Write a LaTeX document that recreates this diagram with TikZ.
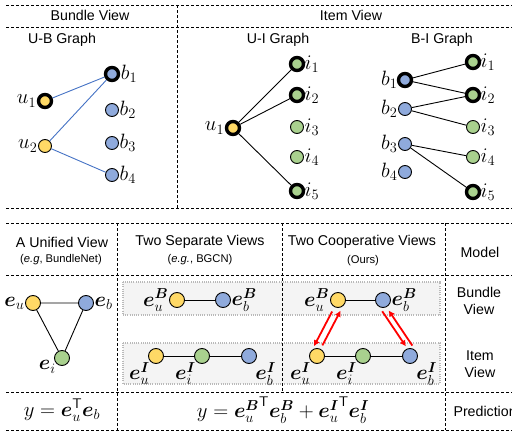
\documentclass[tikz,border=0pt]{standalone}
\usepackage{amsmath,bm}
\usepackage{fontspec}
\setmainfont{Liberation Sans}
\usetikzlibrary{arrows.meta}

\definecolor{uyel}{HTML}{FFD966}
\definecolor{bblu}{HTML}{8FAADC}
\definecolor{igrn}{HTML}{A9D18E}
\definecolor{eblu}{HTML}{4472C4}

\tikzset{
	dot/.style={circle, draw=black, line width=0.9pt, minimum size=13pt, inner sep=0pt},
	user/.style={dot, fill=uyel},
	bund/.style={dot, fill=bblu},
	item/.style={dot, fill=igrn},
	hot/.style={line width=3.4pt},
	big/.style={minimum size=15pt, every label/.append style={font=\fontsize{21}{24}\selectfont}},
	grid/.style={line width=0.9pt, dash pattern=on 3pt off 2pt},
	viewbox/.style={draw=gray!55, fill=gray!9, line width=1.1pt, dash pattern=on 1pt off 1.2pt},
	uedge/.style={eblu, line width=0.9pt},
	kedge/.style={black, line width=0.9pt},
	coop/.style={red, line width=1.8pt, -{Latex[length=6pt,width=6.5pt]}},
	hdr/.style={font=\fontsize{14.2}{16}\selectfont},
	sub/.style={font=\fontsize{11.2}{13}\selectfont},
	every label/.style={font=\fontsize{20}{23}\selectfont, inner sep=0.5pt},
}

\newcommand{\bv}[1]{\bm{e}_{#1}}

\begin{document}
\begin{tikzpicture}[x=1pt, y=-1pt]
			%%%%% START %%%%%
			\useasboundingbox (0,0) rectangle (512,434);
			
			% gray view boxes
			\draw[viewbox] (123,282) rectangle (440,315);
			\draw[viewbox] (123,343) rectangle (440,384);
			
			% top table
			\draw[grid] (6,5) -- (512,5);
			\draw[grid] (6,27) -- (512,27);
			\draw[grid] (6,208) -- (512,208);
			\draw[grid] (177,5) -- (177,208);
			
			% bottom table
			\draw[grid] (6,223) -- (512,223);
			\draw[grid] (6,275) -- (512,275);
			\draw[grid] (6,392) -- (512,392);
			\draw[grid] (6,430) -- (512,430);
			\draw[grid] (117,223) -- (117,430);
			\draw[grid] (282,223) -- (282,392);
			\draw[grid] (445,223) -- (445,430);
			
			% headers
			\node[hdr] (h-bv) at (90,15) {Bundle View};
			\node[hdr] (h-iv) at (351,15) {Item View};
			\node[hdr] (h-ub) at (62,40) {U-B Graph};
			\node[hdr] (h-ui) at (278,40) {U-I Graph};
			\node[hdr] (h-bi) at (442,40) {B-I Graph};
			
			% U-B graph
			\node[user,hot,label=left:$u_1$] (ub-u1) at (45,101) {};
			\node[user,label=left:$u_2$] (ub-u2) at (45,146) {};
			\node[bund,hot,label=right:$b_1$] (ub-b1) at (112,74) {};
			\node[bund,label=right:$b_2$] (ub-b2) at (112,110) {};
			\node[bund,label=right:$b_3$] (ub-b3) at (112,143) {};
			\node[bund,label=right:$b_4$] (ub-b4) at (112,175) {};
			\draw[uedge] (ub-u1) -- (ub-b1);
			\draw[uedge] (ub-u2) -- (ub-b1);
			\draw[uedge] (ub-u2) -- (ub-b4);
			
			% U-I graph
			\node[user,hot,label=left:$u_1$] (ui-u1) at (233,128) {};
			\foreach \n/\y in {1/64,2/95,3/127,4/157,5/191}
				\node[item,label=right:$i_\n$] (ui-i\n) at (297,\y) {};
			\foreach \n in {1,2,5} {
				\node[item,hot] at (ui-i\n) {};
				\draw[kedge] (ui-u1) -- (ui-i\n);
			}
			
			% B-I graph
			\foreach \n/\y in {1/80,2/109,3/144,4/172}
				\node[bund,label=left:$b_\n$] (bi-b\n) at (405,\y) {};
			\foreach \n/\y in {1/62,2/95,3/127,4/157,5/192}
				\node[item,label=right:$i_\n$] (bi-i\n) at (473,\y) {};
			\node[bund,hot] at (bi-b1) {};
			\foreach \n in {1,2,5}
				\node[item,hot] at (bi-i\n) {};
			\foreach \a/\b in {1/1,1/2,2/2,2/3,3/4,3/5}
				\draw[kedge] (bi-b\a) -- (bi-i\b);
			
			% bottom table headers
			\node[hdr] (h-uni) at (62,242) {A Unified View};
			\node[sub] (s-uni) at (61,260) {(\textit{e.g}, BundleNet)};
			\node[hdr] (h-sep) at (200,242) {Two Separate Views};
			\node[sub] (s-sep) at (200,260) {(\textit{e.g.}, BGCN)};
			\node[hdr] (h-coo) at (362,242) {Two Cooperative Views};
			\node[sub] (s-coo) at (363,261) {(Ours)};
			\node[hdr] (h-mod) at (480,252) {Model};
			\node[hdr, align=center] (h-bun) at (479,301) {Bundle\\[1pt]View};
			\node[hdr, align=center] (h-itm) at (480,364) {Item\\[1pt]View};
			\node[hdr, anchor=west] (h-pre) at (450,411) {Prediction};
			
			% unified view
			\node[user,big,label=left:$\bv{u}$] (un-u) at (33,303) {};
			\node[bund,big,label=right:$\bv{b}$] (un-b) at (86,303) {};
			\node[item,big,label={[label distance=-2pt]-160:$\bv{i}$}] (un-i) at (62,358) {};
			\draw[kedge] (un-u) -- (un-b) -- (un-i) -- (un-u);
			
			% separate views
			\node[user,big,label=left:$\bv{u}^{\bm{B}}$] (se-uB) at (177,300) {};
			\node[bund,big,label=right:$\bv{b}^{\bm{B}}$] (se-bB) at (223,300) {};
			\node[user,big,label=below left:$\bv{u}^{\bm{I}}$] (se-uI) at (156,356) {};
			\node[item,big,label=below left:$\bv{i}^{\bm{I}}$] (se-iI) at (202,356) {};
			\node[bund,big,label=below right:$\bv{b}^{\bm{I}}$] (se-bI) at (249,356) {};
			\draw[kedge] (se-uB) -- (se-bB);
			\draw[kedge] (se-uI) -- (se-iI) -- (se-bI);
			
			% cooperative views
			\node[user,big,label=left:$\bv{u}^{\bm{B}}$] (co-uB) at (338,300) {};
			\node[bund,big,label=right:$\bv{b}^{\bm{B}}$] (co-bB) at (383,300) {};
			\node[user,big,label=below left:$\bv{u}^{\bm{I}}$] (co-uI) at (317,356) {};
			\node[item,big,label=below left:$\bv{i}^{\bm{I}}$] (co-iI) at (363,356) {};
			\node[bund,big,label=below right:$\bv{b}^{\bm{I}}$] (co-bI) at (410,356) {};
			\draw[kedge] (co-uB) -- (co-bB);
			\draw[kedge] (co-uI) -- (co-iI) -- (co-bI);
			\draw[coop, shorten <=4pt, shorten >=2pt] ([xshift=-4pt]co-uB.south) -- ([xshift=-4pt]co-uI.north);
			\draw[coop, shorten <=3pt, shorten >=3pt] ([xshift=4pt]co-uI.north) -- ([xshift=4pt]co-uB.south);
			\draw[coop, shorten <=4pt, shorten >=2pt] ([xshift=-3pt]co-bB.south) -- ([xshift=-3pt]co-bI.north);
			\draw[coop, shorten <=3pt, shorten >=3pt] ([xshift=4pt]co-bI.north) -- ([xshift=4pt]co-bB.south);
			
			% predictions
			\node[font=\fontsize{20}{23}\selectfont] (p-uni) at (62,410)
				{$y = \bv{u}^{\mathsf{T}}\bv{b}$};
			\node[font=\fontsize{20}{23}\selectfont] (p-two) at (283,410)
				{$y = {\bv{u}^{\bm{B}}}^{\mathsf{T}}\bv{b}^{\bm{B}} + {\bv{u}^{\bm{I}}}^{\mathsf{T}}\bv{b}^{\bm{I}}$};
			%%%%% END %%%%%
\end{tikzpicture}
\end{document}
